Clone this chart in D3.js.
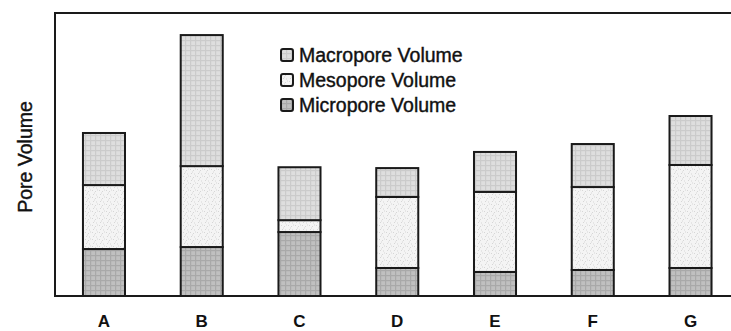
<!DOCTYPE html>
<html>
<head>
<meta charset="utf-8">
<script src="https://cdn.jsdelivr.net/npm/d3@7/dist/d3.min.js"></script>
<style>
  html, body { margin: 0; padding: 0; background: #fff; }
  svg { display: block; }
  text { font-family: "Liberation Sans", Arial, sans-serif; fill: #111; }
</style>
</head>
<body>
<svg id="chart" width="731" height="331"></svg>
<script>
// Samples and their pore volumes (arbitrary units)
const categories = ["A", "B", "C", "D", "E", "F", "G"];
const micropore = [16.6, 17.3, 22.6, 9.9, 8.5, 9.2, 9.9];
const mesopore  = [22.6, 28.6, 4.2, 25.1, 28.3, 29.3, 36.4];
const macropore = [18.4, 46.3, 18.7, 10.2, 14.1, 15.2, 17.3];
const seriesNames = ["Micropore Volume", "Mesopore Volume", "Macropore Volume"];
const legendOrder = ["Macropore Volume", "Mesopore Volume", "Micropore Volume"];

const rows = categories.map((c, i) => ({
  cat: c,
  "Micropore Volume": micropore[i],
  "Mesopore Volume": mesopore[i],
  "Macropore Volume": macropore[i]
}));

const svg = d3.select("#chart");
const plotLeft = 55, plotRight = 739.5, plotTop = 13, plotBottom = 296;

// Fill textures
const defs = svg.append("defs");
function gridPattern(id, base, line) {
  const p = defs.append("pattern").attr("id", id)
    .attr("patternUnits", "userSpaceOnUse").attr("width", 5).attr("height", 5);
  p.append("rect").attr("width", 5).attr("height", 5).attr("fill", base);
  p.append("rect").attr("x", 0).attr("y", 0).attr("width", 5).attr("height", 1.2).attr("fill", line);
  p.append("rect").attr("x", 0).attr("y", 0).attr("width", 1.2).attr("height", 5).attr("fill", line);
}
gridPattern("pat-macro", "#dedede", "#cbcbcb");
gridPattern("pat-micro", "#c0c0c0", "#a9a9a9");
(function speckle() {
  const p = defs.append("pattern").attr("id", "pat-meso")
    .attr("patternUnits", "userSpaceOnUse").attr("width", 7).attr("height", 7);
  p.append("rect").attr("width", 7).attr("height", 7).attr("fill", "#f4f4f4");
  [[1, 1], [4, 2], [2, 5], [5, 5.5], [6, 0.5], [3, 3.5]].forEach(([px, py]) =>
    p.append("rect").attr("x", px).attr("y", py).attr("width", 1).attr("height", 1).attr("fill", "#d6d6d6"));
})();
const fills = {
  "Macropore Volume": "url(#pat-macro)",
  "Mesopore Volume": "url(#pat-meso)",
  "Micropore Volume": "url(#pat-micro)"
};

const x = d3.scaleBand().domain(categories).range([plotLeft, plotRight])
  .paddingInner(0.57).paddingOuter(0.286);
const y = d3.scaleLinear().domain([0, 100]).range([plotBottom, plotTop]);

const stacked = d3.stack().keys(seriesNames)(rows);

// Bars
svg.append("g").selectAll("g").data(stacked).join("g")
  .attr("fill", d => fills[d.key])
  .selectAll("rect").data(d => d).join("rect")
  .attr("x", d => x(d.data.cat))
  .attr("width", x.bandwidth())
  .attr("y", d => y(d[1]))
  .attr("height", d => y(d[0]) - y(d[1]))
  .attr("stroke", "#1a1a1a")
  .attr("stroke-width", 2);

// Frame: left, top and baseline
svg.append("path")
  .attr("d", `M731,${plotTop}H${plotLeft}V${plotBottom}H731`)
  .attr("stroke", "#1a1a1a").attr("stroke-width", 2).attr("fill", "none");

// Category axis
const xAxis = d3.axisBottom(x).tickSize(0).tickPadding(0);
const gx = svg.append("g").attr("transform", `translate(0,${plotBottom})`).call(xAxis);
gx.select(".domain").remove();
gx.selectAll("text")
  .attr("y", 31).attr("dy", null)
  .attr("font-size", 17).attr("font-weight", "bold")
  .attr("font-family", '"Liberation Sans", Arial, sans-serif')
  .attr("fill", "#111");

// Y axis title
svg.append("text")
  .attr("transform", "translate(32,157) rotate(-90)")
  .attr("text-anchor", "middle")
  .attr("font-size", 19.5)
  .attr("stroke", "#111").attr("stroke-width", 0.4)
  .text("Pore Volume");

// Legend
const legend = svg.append("g").attr("transform", "translate(281,48)");
legendOrder.forEach((name, i) => {
  const g = legend.append("g").attr("transform", `translate(0,${i * 25})`);
  g.append("rect").attr("x", 0).attr("y", 1).attr("width", 12).attr("height", 12)
    .attr("rx", 2).attr("fill", fills[name]).attr("stroke", "#1a1a1a").attr("stroke-width", 2);
  g.append("text").attr("x", 18).attr("y", 14).attr("font-size", 19.5)
    .attr("stroke", "#111").attr("stroke-width", 0.4)
    .text(name);
});
</script>
</body>
</html>
